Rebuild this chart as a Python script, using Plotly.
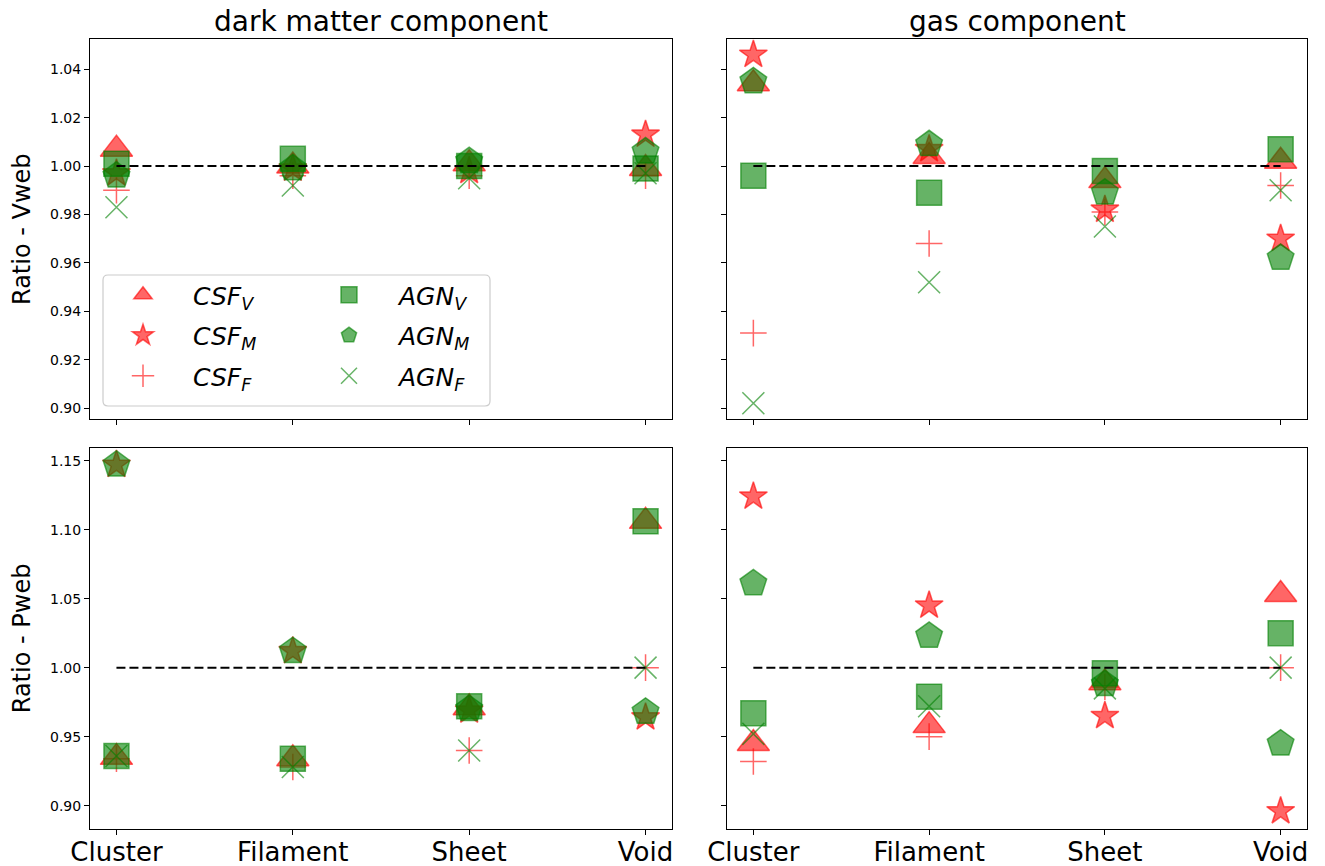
import plotly.graph_objects as go

categories = ["Cluster", "Filament", "Sheet", "Void"]
xpos = [0, 1, 2, 3]

# Vweb, dark matter component
vweb_dm_csf_v = [1.007, 1.000, 1.001, 0.999]
vweb_dm_csf_m = [0.997, 0.999, 0.998, 1.013]
vweb_dm_csf_f = [0.990, 0.996, 0.996, 0.996]
vweb_dm_agn_v = [1.001, 1.003, 1.000, 0.999]
vweb_dm_agn_m = [0.996, 0.999, 1.002, 1.006]
vweb_dm_agn_f = [0.983, 0.992, 0.995, 0.997]

# Vweb, gas component
vweb_gas_csf_v = [1.034, 1.004, 0.994, 1.002]
vweb_gas_csf_m = [1.046, 1.007, 0.982, 0.970]
vweb_gas_csf_f = [0.931, 0.968, 0.981, 0.992]
vweb_gas_agn_v = [0.996, 0.989, 0.998, 1.007]
vweb_gas_agn_m = [1.035, 1.009, 0.989, 0.962]
vweb_gas_agn_f = [0.902, 0.952, 0.975, 0.990]

# Pweb, dark matter component
pweb_dm_csf_v = [0.935, 0.934, 0.971, 1.106]
pweb_dm_csf_m = [1.147, 1.012, 0.969, 0.964]
pweb_dm_csf_f = [0.934, 0.928, 0.940, 1.000]
pweb_dm_agn_v = [0.936, 0.934, 0.972, 1.106]
pweb_dm_agn_m = [1.147, 1.012, 0.970, 0.968]
pweb_dm_agn_f = [0.936, 0.928, 0.940, 1.000]

# Pweb, gas component
pweb_gas_csf_v = [0.945, 0.958, 0.989, 1.053]
pweb_gas_csf_m = [1.124, 1.045, 0.965, 0.896]
pweb_gas_csf_f = [0.932, 0.950, 0.986, 1.000]
pweb_gas_agn_v = [0.967, 0.979, 0.996, 1.025]
pweb_gas_agn_m = [1.061, 1.023, 0.988, 0.945]
pweb_gas_agn_f = [0.952, 0.972, 0.985, 1.000]

RED = "rgba(255,0,0,0.6)"
GREEN = "rgba(0,128,0,0.6)"
FONT = "DejaVu Sans"

# (name, symbol, size, colour, legend)
styles = [
  ("<i>CSF<sub>V</sub></i>", "triangle-up", 28, RED, "legend"),
  ("<i>CSF<sub>M</sub></i>", "star", 21, RED, "legend"),
  ("<i>CSF<sub>F</sub></i>", "cross-thin", 19, RED, "legend"),
  ("<i>AGN<sub>V</sub></i>", "square", 25, GREEN, "legend2"),
  ("<i>AGN<sub>M</sub></i>", "pentagon", 28, GREEN, "legend2"),
  ("<i>AGN<sub>F</sub></i>", "x-thin", 22, GREEN, "legend2"),
]

panels = [
  ("x", "y", [vweb_dm_csf_v, vweb_dm_csf_m, vweb_dm_csf_f, vweb_dm_agn_v, vweb_dm_agn_m, vweb_dm_agn_f]),
  ("x2", "y2", [vweb_gas_csf_v, vweb_gas_csf_m, vweb_gas_csf_f, vweb_gas_agn_v, vweb_gas_agn_m, vweb_gas_agn_f]),
  ("x3", "y3", [pweb_dm_csf_v, pweb_dm_csf_m, pweb_dm_csf_f, pweb_dm_agn_v, pweb_dm_agn_m, pweb_dm_agn_f]),
  ("x4", "y4", [pweb_gas_csf_v, pweb_gas_csf_m, pweb_gas_csf_f, pweb_gas_agn_v, pweb_gas_agn_m, pweb_gas_agn_f]),
]

fig = go.Figure()
for p, (xa, ya, series) in enumerate(panels):
  for (name, sym, size, col, leg), vals in zip(styles, series):
    fig.add_trace(go.Scatter(
      x = xpos, y = vals, xaxis = xa, yaxis = ya, mode = "markers", name = name,
      legend = leg, legendgroup = name, showlegend = (p == 0),
      marker = dict(symbol = sym, size = size, color = col,
                    line = dict(color = col, width = 1.5))))
  # reference line at ratio 1
  fig.add_trace(go.Scatter(
    x = [xpos[0], xpos[-1]], y = [1, 1], xaxis = xa, yaxis = ya, mode = "lines",
    line = dict(color = "black", width = 2, dash = "9px,4px"), showlegend = False,
    hoverinfo = "skip"))

W, H = 1325, 866
xl = [90 / W, 672 / W]
xr = [727 / W, 1307 / W]
yt = [1 - 419 / H, 1 - 39 / H]
yb = [1 - 829 / H, 1 - 447.5 / H]

common_x = dict(range = [-0.15, 3.15], tickvals = xpos, ticktext = categories,
                showline = True, mirror = True, linecolor = "black", linewidth = 1,
                ticks = "outside", ticklen = 5, tickcolor = "black", showgrid = False,
                zeroline = False, automargin = False,
                tickfont = dict(family = FONT, size = 26, color = "black"))
common_y = dict(showline = True, mirror = True, linecolor = "black", linewidth = 1,
                ticks = "outside", ticklen = 5, tickcolor = "black", showgrid = False,
                zeroline = False, automargin = False,
                tickfont = dict(family = FONT, size = 14, color = "black"))

top_range = [0.8955, 1.0525]
bot_range = [0.8831, 1.1595]
top_ticks = [0.90, 0.92, 0.94, 0.96, 0.98, 1.00, 1.02, 1.04]
bot_ticks = [0.90, 0.95, 1.00, 1.05, 1.10, 1.15]

legend_style = dict(font = dict(family = FONT, size = 25, color = "black"),
                    bgcolor = "rgba(0,0,0,0)", borderwidth = 0, tracegroupgap = 5,
                    xanchor = "left", yanchor = "top", itemsizing = "trace",
                    itemwidth = 90)

fig.update_layout(
  width = W, height = H, margin = dict(l = 0, r = 0, t = 0, b = 0, autoexpand = False),
  paper_bgcolor = "white", plot_bgcolor = "white",
  font = dict(family = FONT, color = "black"),
  xaxis = dict(common_x, domain = xl, anchor = "y", showticklabels = False),
  yaxis = dict(common_y, domain = yt, anchor = "x", range = top_range, tickvals = top_ticks,
               tickformat = ".2f"),
  xaxis2 = dict(common_x, domain = xr, anchor = "y2", showticklabels = False),
  yaxis2 = dict(common_y, domain = yt, anchor = "x2", range = top_range, tickvals = top_ticks,
                showticklabels = False),
  xaxis3 = dict(common_x, domain = xl, anchor = "y3", ticklabelstandoff = -5),
  yaxis3 = dict(common_y, domain = yb, anchor = "x3", range = bot_range, tickvals = bot_ticks,
                tickformat = ".2f"),
  xaxis4 = dict(common_x, domain = xr, anchor = "y4", ticklabelstandoff = -5),
  yaxis4 = dict(common_y, domain = yb, anchor = "x4", range = bot_range, tickvals = bot_ticks,
                showticklabels = False),
  legend = dict(legend_style, x = 93 / W, y = 1 - 272 / H),
  legend2 = dict(legend_style, x = 299 / W, y = 1 - 272 / H),
  showlegend = True,
)

# legend frame shared by both legend columns
x0, x1, y0, y1, rad = 103 / W, 490 / W, 1 - 406 / H, 1 - 275 / H, 5
rx, ry = rad / W, rad / H
frame = (f"M{x0 + rx},{y1} L{x1 - rx},{y1} Q{x1},{y1} {x1},{y1 - ry} "
         f"L{x1},{y0 + ry} Q{x1},{y0} {x1 - rx},{y0} L{x0 + rx},{y0} "
         f"Q{x0},{y0} {x0},{y0 + ry} L{x0},{y1 - ry} Q{x0},{y1} {x0 + rx},{y1} Z")
fig.add_shape(type = "path", path = frame, xref = "paper", yref = "paper",
              line = dict(color = "#cccccc", width = 1.2), fillcolor = "rgba(255,255,255,0.8)",
              layer = "above")

title_font = dict(family = FONT, size = 28, color = "black")
fig.add_annotation(text = "dark matter component", x = (xl[0] + xl[1]) / 2, y = 1 - 22 / H,
                   xref = "paper", yref = "paper", showarrow = False,
                   xanchor = "center", yanchor = "middle", font = title_font)
fig.add_annotation(text = "gas component", x = (xr[0] + xr[1]) / 2, y = 1 - 22 / H,
                   xref = "paper", yref = "paper", showarrow = False,
                   xanchor = "center", yanchor = "middle", font = title_font)
ylab_font = dict(family = FONT, size = 24, color = "black")
fig.add_annotation(text = "Ratio - Vweb", x = 22 / W, y = (yt[0] + yt[1]) / 2,
                   xref = "paper", yref = "paper", showarrow = False, textangle = -90,
                   xanchor = "center", yanchor = "middle", font = ylab_font)
fig.add_annotation(text = "Ratio - Pweb", x = 22 / W, y = (yb[0] + yb[1]) / 2,
                   xref = "paper", yref = "paper", showarrow = False, textangle = -90,
                   xanchor = "center", yanchor = "middle", font = ylab_font)

# drop the default page margin so the figure fills the window exactly
fig.write_html("out.html", config = {"displayModeBar": False},
               post_script = "document.body.style.margin = '0px';")
